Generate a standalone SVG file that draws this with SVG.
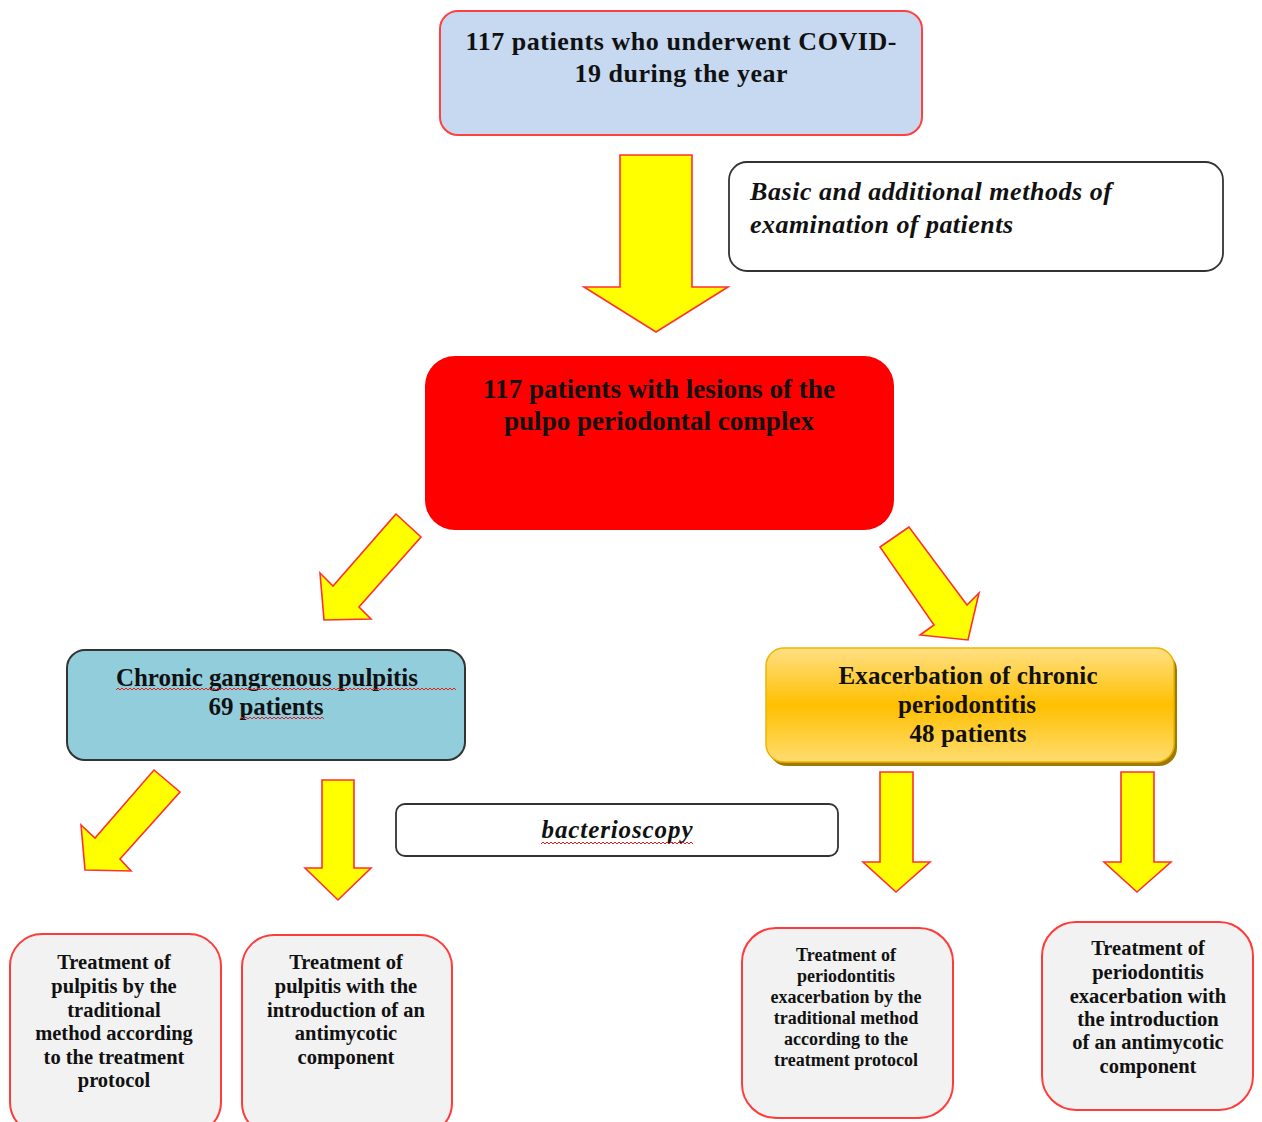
<svg xmlns="http://www.w3.org/2000/svg" width="1262" height="1122" viewBox="0 0 1262 1122">
<style>
.t{font-family:"Liberation Serif","Tinos","Times New Roman","DejaVu Serif",serif;font-weight:bold;fill:#111;text-anchor:middle}
.it{font-family:"Liberation Serif","Tinos","Times New Roman","DejaVu Serif",serif;font-weight:bold;font-style:italic;fill:#111}
.arr{fill:#ffff00;stroke:#ff3030;stroke-width:1.6;stroke-linejoin:miter}
.red{fill:#f2f2f2;stroke:#ff3b3b;stroke-width:2}
.sq{fill:none;stroke:#e02020;stroke-width:1}
</style>
<defs>
<linearGradient id="og" x1="0" y1="0" x2="0" y2="1">
<stop offset="0" stop-color="#ffe085"/>
<stop offset="0.5" stop-color="#ffc000"/>
<stop offset="1" stop-color="#ffdc70"/>
</linearGradient>
</defs>
<rect width="1262" height="1122" fill="#ffffff"/>

<g id="connectors">
<polygon class="arr" points="620,155 692,155 692,287 728,287 656,332 584,287 620,287"/>
<polygon class="arr" points="396,514 421,537 359,607 371,619 324,620 320,573 333,586"/>
<polygon class="arr" points="909,527 880,547 934,625 920,635 968,640 979,593 967,605"/>
<polygon class="arr" points="154,770 180,792 120,859 131,871 85,870 81,825 95,838"/>
<polygon class="arr" points="322,780 354,780 354,868 371,868 338,900 305,868 322,868"/>
<polygon class="arr" points="880,772 913,772 913,862 930,862 896,892 863,862 880,862"/>
<polygon class="arr" points="1121,772 1154,772 1154,862 1171,862 1137,892 1104,862 1121,862"/>
</g>

<g id="node-covid">
<rect x="440" y="11" width="482" height="124" rx="18" fill="#c6d9f1" stroke="#ff4040" stroke-width="2"/>
<text class="t" x="681" y="50" font-size="26" textLength="431" lengthAdjust="spacing">117 patients who underwent COVID-</text>
<text class="t" x="681" y="82" font-size="26" textLength="213" lengthAdjust="spacing">19 during the year</text>
</g>

<g id="node-methods">
<rect x="729" y="162" width="494" height="109" rx="18" fill="#ffffff" stroke="#333333" stroke-width="1.8"/>
<text class="it" x="750" y="200" font-size="26" textLength="362" lengthAdjust="spacing">Basic and additional methods of</text>
<text class="it" x="750" y="233" font-size="26" textLength="263" lengthAdjust="spacing">examination of patients</text>
</g>

<g id="node-lesions">
<rect x="425" y="356" width="469" height="174" rx="30" fill="#ff0000"/>
<text class="t" x="659" y="398" font-size="27" textLength="352" lengthAdjust="spacingAndGlyphs">117 patients with lesions of the</text>
<text class="t" x="659" y="430" font-size="27" textLength="310" lengthAdjust="spacingAndGlyphs">pulpo periodontal complex</text>
</g>

<g id="node-pulpitis">
<rect x="67" y="650" width="398" height="110" rx="18" fill="#92cddc" stroke="#333333" stroke-width="2"/>
<text class="t" x="267" y="686" font-size="25" textLength="302" lengthAdjust="spacing">Chronic gangrenous pulpitis</text>
<text class="t" x="266" y="715" font-size="25" textLength="115" lengthAdjust="spacing">69 patients</text>
<path class="sq" d="M116,690 l2,-2 l2,2 l2,-2 l2,2 l2,-2 l2,2 l2,-2 l2,2 l2,-2 l2,2 l2,-2 l2,2 l2,-2 l2,2 l2,-2 l2,2 l2,-2 l2,2 l2,-2 l2,2 l2,-2 l2,2 l2,-2 l2,2 l2,-2 l2,2 l2,-2 l2,2 l2,-2 l2,2 l2,-2 l2,2 l2,-2 l2,2 l2,-2 l2,2 l2,-2 l2,2 l2,-2 l2,2 l2,-2 l2,2 l2,-2 l2,2 l2,-2 l2,2 l2,-2 l2,2 l2,-2 l2,2 l2,-2 l2,2 l2,-2 l2,2 l2,-2 l2,2 l2,-2 l2,2 l2,-2 l2,2 l2,-2 l2,2 l2,-2 l2,2 l2,-2 l2,2 l2,-2 l2,2 l2,-2 l2,2 l2,-2 l2,2 l2,-2 l2,2 l2,-2 l2,2 l2,-2 l2,2 l2,-2 l2,2 l2,-2 l2,2 l2,-2 l2,2 l2,-2 l2,2 l2,-2 l2,2 l2,-2 l2,2 l2,-2 l2,2 l2,-2 l2,2 l2,-2 l2,2 l2,-2 l2,2 l2,-2 l2,2 l2,-2 l2,2 l2,-2 l2,2 l2,-2 l2,2 l2,-2 l2,2 l2,-2 l2,2 l2,-2 l2,2 l2,-2 l2,2 l2,-2 l2,2 l2,-2 l2,2 l2,-2 l2,2 l2,-2 l2,2 l2,-2 l2,2 l2,-2 l2,2 l2,-2 l2,2 l2,-2 l2,2 l2,-2 l2,2 l2,-2 l2,2 l2,-2 l2,2 l2,-2 l2,2 l2,-2 l2,2 l2,-2 l2,2 l2,-2 l2,2 l2,-2 l2,2 l2,-2 l2,2 l2,-2 l2,2 l2,-2 l2,2 l2,-2 l2,2 l2,-2 l2,2 l2,-2 l2,2 l2,-2 l2,2 l2,-2 l2,2 l2,-2 l2,2 l2,-2 l2,2 l2,-2 l2,2 l2,-2 l2,2"/>
<path class="sq" d="M240,719 l2,-2 l2,2 l2,-2 l2,2 l2,-2 l2,2 l2,-2 l2,2 l2,-2 l2,2 l2,-2 l2,2 l2,-2 l2,2 l2,-2 l2,2 l2,-2 l2,2 l2,-2 l2,2 l2,-2 l2,2 l2,-2 l2,2 l2,-2 l2,2 l2,-2 l2,2 l2,-2 l2,2 l2,-2 l2,2 l2,-2 l2,2 l2,-2 l2,2 l2,-2 l2,2 l2,-2 l2,2 l2,-2 l2,2"/>
</g>

<g id="node-periodontitis">
<rect x="769" y="652" width="408" height="114" rx="18" fill="#a07a00"/>
<rect x="766" y="648" width="408" height="114" rx="18" fill="url(#og)" stroke="#f0b400" stroke-width="1.5"/>
<text class="t" x="968" y="684" font-size="25" textLength="259" lengthAdjust="spacing">Exacerbation of chronic</text>
<text class="t" x="967" y="713" font-size="25" textLength="138" lengthAdjust="spacing">periodontitis</text>
<text class="t" x="968" y="742" font-size="25" textLength="117" lengthAdjust="spacing">48 patients</text>
</g>

<g id="node-bacterioscopy">
<rect x="396" y="804" width="442" height="52" rx="9" fill="#ffffff" stroke="#333333" stroke-width="1.8"/>
<text class="it" x="617" y="838" font-size="25" text-anchor="middle" textLength="151" lengthAdjust="spacing">bacterioscopy</text>
<path class="sq" d="M541,844 l2,-2 l2,2 l2,-2 l2,2 l2,-2 l2,2 l2,-2 l2,2 l2,-2 l2,2 l2,-2 l2,2 l2,-2 l2,2 l2,-2 l2,2 l2,-2 l2,2 l2,-2 l2,2 l2,-2 l2,2 l2,-2 l2,2 l2,-2 l2,2 l2,-2 l2,2 l2,-2 l2,2 l2,-2 l2,2 l2,-2 l2,2 l2,-2 l2,2 l2,-2 l2,2 l2,-2 l2,2 l2,-2 l2,2 l2,-2 l2,2 l2,-2 l2,2 l2,-2 l2,2 l2,-2 l2,2 l2,-2 l2,2 l2,-2 l2,2 l2,-2 l2,2 l2,-2 l2,2 l2,-2 l2,2 l2,-2 l2,2 l2,-2 l2,2 l2,-2 l2,2 l2,-2 l2,2 l2,-2 l2,2 l2,-2 l2,2 l2,-2 l2,2 l2,-2 l2,2"/>
</g>

<g id="node-treat1">
<rect class="red" x="10" y="934" width="211" height="200" rx="32"/>
<text class="t" x="114" y="969" font-size="20.5">Treatment of</text>
<text class="t" x="114" y="993" font-size="20.5">pulpitis by the</text>
<text class="t" x="114" y="1017" font-size="20.5">traditional</text>
<text class="t" x="114" y="1040" font-size="20.5">method according</text>
<text class="t" x="114" y="1064" font-size="20.5">to the treatment</text>
<text class="t" x="114" y="1087" font-size="20.5">protocol</text>
</g>

<g id="node-treat2">
<rect class="red" x="242" y="935" width="210" height="200" rx="32"/>
<text class="t" x="346" y="969" font-size="20.5">Treatment of</text>
<text class="t" x="346" y="993" font-size="20.5">pulpitis with the</text>
<text class="t" x="346" y="1017" font-size="20.5">introduction of an</text>
<text class="t" x="346" y="1040" font-size="20.5">antimycotic</text>
<text class="t" x="346" y="1064" font-size="20.5">component</text>
</g>

<g id="node-treat3">
<rect class="red" x="742" y="928" width="211" height="190" rx="34"/>
<text class="t" x="846" y="961" font-size="18">Treatment of</text>
<text class="t" x="846" y="982" font-size="18">periodontitis</text>
<text class="t" x="846" y="1003" font-size="18">exacerbation by the</text>
<text class="t" x="846" y="1024" font-size="18">traditional method</text>
<text class="t" x="846" y="1045" font-size="18">according to the</text>
<text class="t" x="846" y="1066" font-size="18">treatment protocol</text>
</g>

<g id="node-treat4">
<rect class="red" x="1042" y="922" width="211" height="188" rx="34"/>
<text class="t" x="1148" y="955" font-size="20.5">Treatment of</text>
<text class="t" x="1148" y="979" font-size="20.5">periodontitis</text>
<text class="t" x="1148" y="1003" font-size="20.5">exacerbation with</text>
<text class="t" x="1148" y="1026" font-size="20.5">the introduction</text>
<text class="t" x="1148" y="1049" font-size="20.5">of an antimycotic</text>
<text class="t" x="1148" y="1073" font-size="20.5">component</text>
</g>
</svg>
